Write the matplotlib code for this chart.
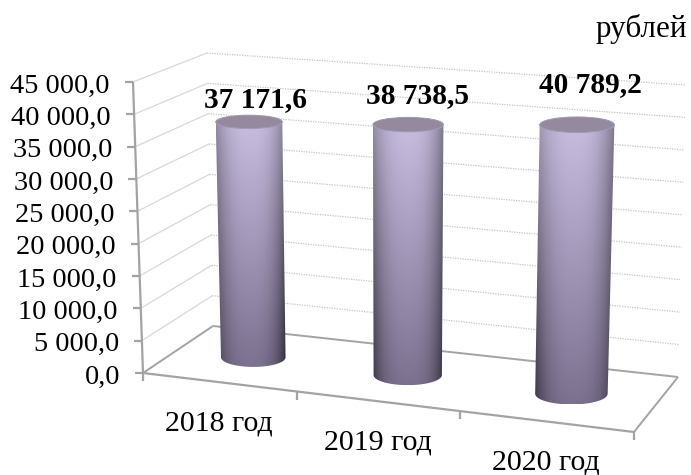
import numpy as np
import matplotlib.pyplot as plt
from matplotlib.patches import Ellipse, PathPatch
from matplotlib.path import Path

# Chart data
categories = ['2018 год', '2019 год', '2020 год']
values = [37171.6, 38738.5, 40789.2]
value_labels = ['37 171,6', '38 738,5', '40 789,2']
y_ticks = [0, 5000, 10000, 15000, 20000, 25000, 30000, 35000, 40000, 45000]
y_tick_labels = ['0,0', '5 000,0', '10 000,0', '15 000,0', '20 000,0',
                 '25 000,0', '30 000,0', '35 000,0', '40 000,0', '45 000,0']
y_max = 45000
unit_label = 'рублей'

plt.rcParams['font.family'] = ['Liberation Serif', 'DejaVu Serif']

fig = plt.figure(figsize=(6.91, 4.75), dpi=100)
ax = fig.add_axes([0, 0, 1, 1])
ax.axis('off')


def homography(corners):
    # plane through the 4 corners, for (u, d) in the unit square
    src = [(0, 0), (1, 0), (1, 1), (0, 1)]
    a, b = [], []
    for (s, t), (x, y) in zip(src, corners):
        a.append([s, t, 1, 0, 0, 0, -s * x, -t * x])
        a.append([0, 0, 0, s, t, 1, -s * y, -t * y])
        b += [x, y]
    h = np.linalg.solve(np.array(a, float), np.array(b, float))
    return np.append(h, 1).reshape(3, 3)


# 3D box as it appears on screen: front-left, front-right, back-right, back-left
floor = homography([(143, 373), (634, 432), (678, 377), (213, 326)])
# how far y_max rises above the floor at the same 4 corners
rise = np.array([(-10, -291), (10, -307.5), (8, -292), (-6, -273)], float)


def project(cat, depth, value):
    # cat runs 0..3 along the categories, depth 0..1 front to back
    u = cat / len(categories)
    a = floor @ np.array([u, depth, 1.0])
    a = a[:2] / a[2]
    front = rise[0] + (rise[1] - rise[0]) * u
    back = rise[3] + (rise[2] - rise[3]) * u
    return a + (front + (back - front) * depth) * value / y_max


def segment(p, q, **kw):
    ax.plot([p[0], q[0]], [p[1], q[1]], solid_capstyle='butt', **kw)


axis_color = '#a3a3a3'
n = len(categories)

# Walls
for v in y_ticks:
    if v > 0:
        segment(project(0, 0, v), project(0, 1, v), color='#d8d8d8', lw=0.9, zorder=1)
        a, b = project(0, 1, v), project(n, 1, v)
        ax.plot([a[0], b[0]], [a[1], b[1]], color='#c4c4c4', lw=0.9,
                linestyle=(0, (1, 1)), zorder=1)

# Floor
segment(project(0, 0, 0), project(0, 1, 0), color=axis_color, lw=1.4, zorder=2)
segment(project(0, 1, 0), project(n, 1, 0), color=axis_color, lw=1.4, zorder=2)
segment(project(n, 1, 0), project(n, 0, 0), color=axis_color, lw=1.4, zorder=2)
segment(project(0, 0, 0), project(n, 0, 0), color=axis_color, lw=1.6, zorder=2)

# Value axis with ticks and labels
segment(project(0, 0, 0), project(0, 0, y_max), color=axis_color, lw=1.6, zorder=2)
for v, label in zip(y_ticks, y_tick_labels):
    x, y = project(0, 0, v)
    ax.plot([x - 8, x], [y, y], color=axis_color, lw=1.6, solid_capstyle='butt', zorder=2)
    ax.text(x - 23, y + 1, label, ha='right', va='center_baseline', fontsize=20.4)

# Category ticks and labels
for i in range(n + 1):
    x, y = project(i, 0, 0)
    ax.plot([x, x], [y, y + 8], color=axis_color, lw=1.6, solid_capstyle='butt', zorder=2)
for i, label in enumerate(categories):
    x, y = project(i + 0.5, 0, 0)
    ax.text(x, y + 48, label, ha='center', va='baseline', fontsize=21.5)


def cylinder_shade(rows=120, cols=120):
    # lighter in the middle of the body, darker to the bottom and the sides
    s = np.linspace(0, 1, rows)[:, None]
    t = np.linspace(-1, 1, cols)[None, :]
    top = np.array([202, 191, 226]) / 255
    bottom = np.array([124, 113, 143]) / 255
    base = top[None, None, :] + (bottom - top)[None, None, :] * s[:, :, None]
    edge = np.where(t < 0, 0.26, 0.36)
    side = 1 - edge * np.abs(t) ** 2.4 - (0.25 * np.abs(t) ** 4) * s
    return np.clip(base * side[:, :, None], 0, 1)


bar_half = 0.215
depth_half = 0.2
label_offset = [(6, 25), (9, 32), (13, 43)]

# Cylinders
for i, v in enumerate(values):
    u = i + 0.5
    bl, br = project(u - bar_half, 0.5, 0), project(u + bar_half, 0.5, 0)
    tl, tr = project(u - bar_half, 0.5, v), project(u + bar_half, 0.5, v)
    bf, bb = project(u, 0.5 - depth_half, 0), project(u, 0.5 + depth_half, 0)
    tf, tb = project(u, 0.5 - depth_half, v), project(u, 0.5 + depth_half, v)
    bc, tc = (bl + br) / 2, (tl + tr) / 2
    bw, tw = br[0] - bl[0], tr[0] - tl[0]
    bh, th = bf[1] - bb[1], tf[1] - tb[1]

    # outline of the body: top ellipse back half, sides, bottom front half
    ang = np.linspace(np.pi, 0, 40)
    lower = np.c_[bc[0] + bw / 2 * np.cos(ang), bc[1] + bh / 2 * np.sin(ang)]
    ang2 = np.linspace(0, np.pi, 40)
    upper = np.c_[tc[0] + tw / 2 * np.cos(ang2), tc[1] - th / 2 * np.sin(ang2)]
    outline = np.vstack([lower, upper, lower[:1]])
    patch = PathPatch(Path(outline), facecolor='none', edgecolor='none', zorder=3)
    ax.add_patch(patch)
    im = ax.imshow(cylinder_shade(), aspect='auto', interpolation='bilinear', zorder=3,
                   extent=[outline[:, 0].min(), outline[:, 0].max(),
                           outline[:, 1].max(), outline[:, 1].min()])
    im.set_clip_path(patch)

    ax.add_patch(Ellipse(tc, tw, th, facecolor='#94899f', edgecolor='#a49ab4',
                         lw=0.7, zorder=4))

    dx, dy = label_offset[i]
    ax.text(tc[0] + dx, tc[1] - dy, value_labels[i], ha='center',
            va='center_baseline', fontsize=21.2, fontweight='bold', zorder=5)

ax.text(687, 37, unit_label, ha='right', va='baseline', fontsize=22.4)

ax.set_xlim(0, 691)
ax.set_ylim(475, 0)

fig.savefig('out.png', dpi=100)
